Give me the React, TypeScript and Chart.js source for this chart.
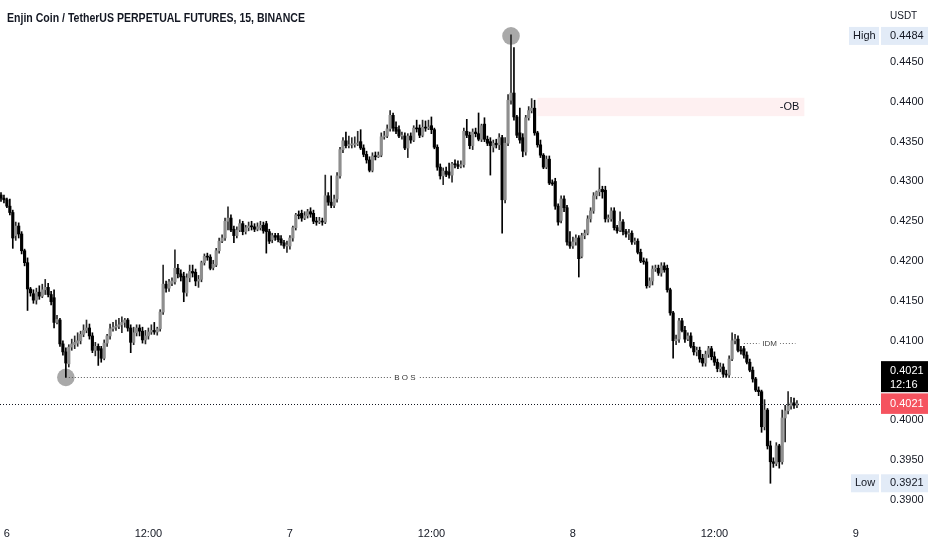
import React, { useEffect, useRef } from 'react';
import { Chart, registerables } from 'chart.js';

Chart.register(...registerables);

const FONT = '"Liberation Sans", Arial, sans-serif';
const TEXT = '#131722';

const TITLE = 'Enjin Coin / TetherUS PERPETUAL FUTURES, 15, BINANCE';
const CURRENCY = 'USDT';
const COUNTDOWN = '12:16';

// x positions are candle indices (15-minute bars)
const TIME_TICKS = [2, 50, 98, 146, 194, 242, 290];
const TIME_LABELS = ['6', '12:00', '7', '12:00', '8', '12:00', '9'];
const PRICE_TICKS = [0.39, 0.395, 0.4, 0.41, 0.415, 0.42, 0.425, 0.43, 0.435, 0.44, 0.445];

// [open, high, low, close] in units of 0.0001 USDT
const CANDLES: number[][] = [
  [4283,4286,4275,4279],[4279,4283,4273,4277],[4277,4279,4267,4269],[4269,4278,4258,4261],[4261,4264,4216,4229],
  [4232,4249,4226,4244],[4244,4248,4229,4234],[4234,4237,4209,4213],[4213,4215,4194,4198],[4198,4204,4138,4165],
  [4165,4167,4156,4160],[4159,4164,4147,4151],[4151,4166,4146,4161],[4161,4169,4152,4156],[4156,4171,4154,4164],
  [4164,4177,4158,4167],[4167,4172,4155,4158],[4158,4162,4145,4149],[4154,4164,4116,4123],[4123,4132,4121,4127],
  [4126,4128,4093,4096],[4096,4100,4082,4086],[4086,4091,4054,4072],[4071,4095,4067,4092],[4092,4102,4088,4096],
  [4095,4106,4090,4098],[4097,4110,4093,4100],[4100,4112,4096,4108],[4108,4120,4105,4113],[4113,4126,4110,4116],
  [4116,4121,4102,4106],[4106,4110,4085,4088],[4088,4098,4081,4093],[4093,4096,4069,4088],[4090,4093,4073,4078],
  [4078,4101,4076,4097],[4097,4108,4093,4106],[4106,4121,4102,4115],[4115,4123,4112,4117],[4117,4126,4113,4118],
  [4118,4128,4115,4120],[4120,4130,4110,4123],[4123,4128,4117,4126],[4126,4128,4112,4116],[4116,4120,4085,4098],
  [4098,4117,4095,4110],[4110,4120,4106,4116],[4116,4120,4106,4112],[4112,4117,4097,4101],[4101,4113,4096,4106],
  [4106,4116,4102,4111],[4111,4120,4108,4113],[4113,4123,4108,4111],[4111,4117,4107,4115],[4115,4139,4112,4136],
  [4136,4195,4133,4171],[4171,4175,4161,4166],[4166,4177,4162,4174],[4172,4179,4169,4175],[4174,4214,4171,4191],
  [4191,4196,4179,4184],[4184,4189,4175,4180],[4181,4186,4149,4161],[4160,4184,4156,4179],[4179,4195,4174,4187],
  [4187,4195,4180,4185],[4186,4190,4169,4175],[4175,4182,4167,4177],[4177,4200,4174,4198],[4198,4209,4195,4206],
  [4206,4210,4201,4205],[4205,4208,4189,4191],[4192,4201,4189,4196],[4195,4216,4193,4213],[4213,4229,4210,4225],
  [4225,4233,4223,4229],[4229,4254,4226,4250],[4250,4268,4239,4254],[4254,4258,4237,4239],[4240,4244,4223,4232],
  [4232,4243,4229,4239],[4239,4252,4237,4247],[4247,4250,4233,4237],[4237,4245,4234,4242],[4242,4249,4238,4244],
  [4244,4250,4239,4243],[4243,4247,4237,4240],[4240,4248,4238,4243],[4242,4250,4239,4245],[4245,4249,4235,4238],
  [4247,4250,4210,4237],[4237,4240,4222,4225],[4227,4235,4223,4232],[4232,4235,4226,4230],[4232,4235,4224,4227],
  [4228,4232,4220,4223],[4223,4226,4216,4219],[4219,4225,4211,4220],[4219,4232,4215,4229],[4229,4244,4225,4242],
  [4242,4260,4239,4258],[4258,4263,4253,4257],[4260,4264,4250,4254],[4254,4262,4252,4257],[4257,4265,4254,4262],
  [4262,4267,4255,4259],[4260,4264,4247,4250],[4250,4255,4245,4249],[4249,4255,4247,4250],[4250,4254,4245,4249],
  [4249,4308,4247,4282],[4282,4286,4270,4274],[4274,4307,4267,4270],[4270,4283,4267,4278],[4278,4311,4274,4307],
  [4307,4343,4304,4340],[4340,4355,4336,4351],[4351,4362,4342,4345],[4345,4357,4342,4346],[4346,4355,4342,4346],
  [4346,4356,4343,4347],[4347,4363,4345,4348],[4350,4365,4340,4342],[4342,4346,4331,4334],[4334,4338,4323,4327],
  [4327,4331,4312,4314],[4314,4336,4312,4332],[4332,4337,4327,4331],[4331,4337,4330,4333],[4333,4361,4331,4356],
  [4356,4363,4353,4357],[4357,4371,4355,4366],[4366,4389,4363,4383],[4383,4386,4363,4367],[4368,4375,4360,4363],
  [4365,4370,4355,4357],[4357,4362,4353,4357],[4357,4361,4340,4342],[4342,4360,4330,4357],[4357,4361,4348,4352],
  [4352,4370,4350,4367],[4367,4377,4362,4366],[4367,4371,4355,4358],[4358,4377,4356,4368],[4368,4376,4363,4367],
  [4367,4377,4365,4368],[4370,4381,4360,4365],[4365,4367,4341,4343],[4343,4346,4314,4318],[4318,4322,4303,4307],
  [4307,4317,4296,4313],[4313,4318,4306,4309],[4312,4323,4304,4308],[4308,4324,4299,4322],[4322,4327,4317,4321],
  [4321,4326,4316,4319],[4319,4326,4317,4321],[4321,4367,4318,4363],[4363,4378,4355,4358],[4358,4362,4341,4345],
  [4345,4366,4340,4362],[4362,4367,4356,4360],[4360,4386,4351,4353],[4353,4372,4350,4370],[4372,4380,4350,4353],
  [4353,4357,4345,4348],[4350,4355,4308,4345],[4343,4352,4337,4348],[4348,4353,4342,4346],[4346,4360,4340,4355],
  [4355,4358,4235,4277],[4277,4355,4273,4348],[4348,4409,4345,4402],[4402,4484,4397,4411],[4411,4468,4377,4381],
  [4381,4383,4355,4358],[4361,4392,4348,4352],[4355,4360,4331,4338],[4337,4383,4333,4380],[4380,4394,4377,4389],
  [4389,4404,4386,4392],[4392,4402,4358,4361],[4361,4363,4343,4346],[4346,4352,4330,4333],[4333,4335,4316,4318],
  [4318,4332,4316,4328],[4328,4332,4296,4298],[4298,4302,4295,4297],[4300,4304,4265,4269],[4269,4272,4245,4249],
  [4251,4282,4248,4278],[4278,4282,4262,4267],[4267,4270,4220,4224],[4224,4237,4216,4219],[4219,4230,4216,4224],
  [4224,4233,4220,4229],[4229,4232,4180,4203],[4206,4235,4204,4232],[4232,4239,4228,4235],[4235,4257,4233,4253],
  [4253,4267,4249,4263],[4263,4286,4260,4282],[4282,4288,4278,4287],[4287,4317,4282,4290],[4290,4294,4279,4287],
  [4289,4294,4249,4253],[4253,4258,4249,4254],[4253,4267,4250,4263],[4263,4267,4239,4242],[4242,4245,4235,4238],
  [4239,4262,4237,4250],[4249,4252,4233,4237],[4237,4240,4230,4234],[4234,4240,4227,4235],[4235,4238,4221,4224],
  [4224,4229,4221,4225],[4225,4228,4209,4211],[4211,4215,4198,4200],[4200,4204,4196,4199],[4199,4203,4166,4169],
  [4169,4179,4167,4175],[4175,4194,4170,4190],[4190,4195,4187,4191],[4191,4195,4182,4185],[4185,4198,4181,4194],
  [4194,4198,4186,4189],[4191,4195,4161,4164],[4164,4166,4132,4135],[4135,4137,4078,4100],[4100,4107,4095,4102],
  [4102,4128,4098,4125],[4125,4128,4111,4113],[4113,4118,4098,4102],[4102,4110,4100,4106],[4106,4110,4091,4093],
  [4093,4098,4082,4086],[4086,4092,4081,4088],[4088,4092,4073,4077],[4078,4083,4068,4072],[4072,4087,4068,4083],
  [4083,4093,4079,4090],[4090,4093,4076,4080],[4080,4086,4069,4073],[4073,4077,4061,4065],[4065,4072,4061,4067],
  [4067,4071,4054,4058],[4058,4063,4054,4057],[4057,4081,4054,4077],[4077,4110,4075,4100],[4100,4108,4096,4102],
  [4102,4106,4086,4088],[4088,4093,4083,4087],[4090,4093,4078,4082],[4082,4086,4071,4073],[4073,4077,4061,4063],
  [4063,4067,4048,4052],[4052,4054,4036,4038],[4038,4042,4031,4036],[4036,4038,3985,3992],[3992,4026,3988,4013],
  [4013,4015,3964,3968],[3968,3974,3921,3948],[3948,3953,3941,3946],[3946,3972,3943,3968],[3968,3970,3940,3948],
  [3948,4013,3945,4003],[4003,4019,3973,4012],[4012,4036,4008,4018],[4018,4029,4014,4022],[4022,4028,4015,4019],
  [4019,4025,4016,4021],
];

// Drawing annotations (candle indices / prices)
const SWING_LOW_INDEX = 22;
const SWING_HIGH_INDEX = 173;
const BOS_END_INDEX = 252;
const IDM_START_INDEX = 252;
const IDM_END_INDEX = 269.5;
const IDM_LEVEL = 0.4097;
const OB_START_INDEX = 182;
const OB_END_INDEX = 272.5;
const OB_TOP = 0.4405;
const OB_BOTTOM = 0.4382;

const X_MIN = -0.339;
const X_MAX = 294.1;
const Y_MIN = 0.38774;
const Y_MAX = 0.452785;

export default function App() {
  const ref = useRef<HTMLCanvasElement>(null);

  useEffect(() => {
    const canvas = ref.current;
    if (!canvas) return;
    const ohlc = CANDLES.map((c) => c.map((v) => v / 10000));
    const up = ohlc.map((c) => c[3] >= c[0]);
    const bodies = ohlc.map((c, i) => ({ x: i, y: [Math.min(c[0], c[3]), Math.max(c[0], c[3])] }));
    const wicks = ohlc.map((c, i) => ({ x: i, y: [c[2], c[1]] }));
    const highest = Math.max(...ohlc.map((c) => c[1]));
    const lowest = Math.min(...ohlc.map((c) => c[2]));
    const last = ohlc[ohlc.length - 1][3];
    const bosLevel = ohlc[SWING_LOW_INDEX][2];

    const overlay = {
      id: 'overlay',
      beforeDatasetsDraw(chart: any) {
        const { ctx, scales } = chart;
        const x = scales.x, y = scales.y;
        ctx.save();
        const x0 = x.getPixelForValue(OB_START_INDEX);
        const x1 = x.getPixelForValue(OB_END_INDEX);
        const y0 = y.getPixelForValue(OB_TOP);
        const y1 = y.getPixelForValue(OB_BOTTOM);
        ctx.fillStyle = 'rgba(242, 54, 69, 0.075)';
        ctx.fillRect(x0, y0, x1 - x0, y1 - y0);
        ctx.fillStyle = '#a9a9a9';
        ctx.beginPath();
        ctx.arc(x.getPixelForValue(SWING_HIGH_INDEX), y.getPixelForValue(highest) + 1, 8.8, 0, Math.PI * 2);
        ctx.fill();
        ctx.beginPath();
        ctx.arc(x.getPixelForValue(SWING_LOW_INDEX), y.getPixelForValue(bosLevel), 8.8, 0, Math.PI * 2);
        ctx.fill();
        ctx.restore();
      },
      afterDraw(chart: any) {
        const { ctx, scales } = chart;
        const x = scales.x, y = scales.y;
        const dotted = (xa: number, xb: number, yy: number, color: string) => {
          ctx.save();
          ctx.strokeStyle = color;
          ctx.lineWidth = 1;
          ctx.setLineDash([1, 2]);
          ctx.beginPath();
          const yr = Math.round(yy) + 0.5;
          ctx.moveTo(xa, yr);
          ctx.lineTo(xb, yr);
          ctx.stroke();
          ctx.restore();
        };
        const label = (text: string, cx: number, cy: number, font: string, color: string, align: CanvasTextAlign, bg?: string) => {
          ctx.save();
          ctx.font = font;
          ctx.textAlign = align;
          ctx.textBaseline = 'middle';
          if (bg) {
            const w = ctx.measureText(text).width;
            ctx.fillStyle = bg;
            const left = align === 'center' ? cx - w / 2 : align === 'right' ? cx - w : cx;
            ctx.fillRect(left - 3, cy - 5, w + 6, 10);
          }
          ctx.fillStyle = color;
          ctx.fillText(text, cx, cy);
          ctx.restore();
        };
        const box = (left: number, cy: number, w: number, h: number, bg: string) => {
          ctx.fillStyle = bg;
          ctx.fillRect(left, cy - h / 2, w, h);
        };

        // BOS
        const bx0 = x.getPixelForValue(SWING_LOW_INDEX);
        const bx1 = x.getPixelForValue(BOS_END_INDEX);
        const by = y.getPixelForValue(bosLevel);
        dotted(bx0, bx1, by, '#555');
        label('B O S', (bx0 + bx1) / 2, Math.round(by) + 0.5, `8px ${FONT}`, '#333', 'center', '#ffffff');

        // IDM
        const ix0 = x.getPixelForValue(IDM_START_INDEX);
        const ix1 = x.getPixelForValue(IDM_END_INDEX);
        const iy = y.getPixelForValue(IDM_LEVEL);
        dotted(ix0, ix1, iy, '#666');
        label('IDM', (ix0 + ix1) / 2, Math.round(iy) + 0.5, `8px ${FONT}`, '#444', 'center', '#ffffff');

        // OB label
        const oy = (y.getPixelForValue(OB_TOP) + y.getPixelForValue(OB_BOTTOM)) / 2;
        label('-OB', x.getPixelForValue(OB_END_INDEX) - 5, oy, `11px ${FONT}`, TEXT, 'right');

        // current price line
        const cy = y.getPixelForValue(last);
        dotted(0, 881, cy, '#131722');

        // title
        ctx.save();
        ctx.font = `bold 13px ${FONT}`;
        ctx.fillStyle = TEXT;
        ctx.textBaseline = 'alphabetic';
        const tw = ctx.measureText(TITLE).width;
        const sx = Math.min(1, 298 / tw);
        ctx.translate(7, 22);
        ctx.scale(sx, 1);
        ctx.fillText(TITLE, 0, 0);
        ctx.restore();

        // price axis labels
        ctx.save();
        label(CURRENCY, 890, 16, `10px ${FONT}`, TEXT, 'left');
        const hy = y.getPixelForValue(highest) + 1;
        box(849, hy, 30, 18, '#e2ebf7');
        box(881, hy, 47, 18, '#e2ebf7');
        label('High', 853, hy, `11px ${FONT}`, TEXT, 'left');
        label(highest.toFixed(4), 890, hy, `11px ${FONT}`, TEXT, 'left');
        const ly = y.getPixelForValue(lowest);
        box(851, ly, 28, 18, '#e2ebf7');
        box(881, ly, 47, 18, '#e2ebf7');
        label('Low', 855, ly, `11px ${FONT}`, TEXT, 'left');
        label(lowest.toFixed(4), 890, ly, `11px ${FONT}`, TEXT, 'left');
        ctx.fillStyle = '#000000';
        ctx.fillRect(881, cy - 42.5, 47, 31);
        box(881, cy, 47, 20.5, '#f5535f');
        label(last.toFixed(4), 890, cy - 33, `11px ${FONT}`, '#ffffff', 'left');
        label(COUNTDOWN, 890, cy - 18.5, `11px ${FONT}`, '#ffffff', 'left');
        label(last.toFixed(4), 890, cy + 0.5, `11px ${FONT}`, '#ffffff', 'left');
        ctx.restore();
      },
    };

    const chart = new Chart(canvas, {
      type: 'bar',
      data: {
        datasets: [
          {
            label: 'wick',
            data: wicks as any,
            backgroundColor: up.map((u) => (u ? '#2a2a2a' : '#000000')),
            barThickness: 1,
            grouped: false,
            order: 2,
          } as any,
          {
            label: 'body',
            data: bodies as any,
            backgroundColor: up.map((u) => (u ? '#8e8e8e' : '#000000')),
            borderWidth: 0,
            barThickness: 2.5,
            minBarLength: 1,
            grouped: false,
            order: 1,
          } as any,
        ],
      },
      options: {
        animation: false,
        responsive: false,
        maintainAspectRatio: false,
        layout: { padding: 0 },
        plugins: { legend: { display: false }, tooltip: { enabled: false } },
        scales: {
          x: {
            type: 'linear',
            min: X_MIN,
            max: X_MAX,
            offset: false,
            grid: { display: false, drawTicks: false },
            border: { display: false },
            afterBuildTicks: (s: any) => {
              s.ticks = TIME_TICKS.map((v) => ({ value: v }));
            },
            afterFit: (s: any) => {
              s.height = 32;
              s.paddingLeft = 0;
              s.paddingRight = 0;
              s.paddingTop = 0;
              s.paddingBottom = 0;
            },
            ticks: {
              autoSkip: false,
              maxRotation: 0,
              padding: 9,
              color: TEXT,
              font: { size: 11, family: FONT },
              callback: (v: any) => {
                const k = TIME_TICKS.indexOf(Number(v));
                return k >= 0 ? TIME_LABELS[k] : '';
              },
            },
          },
          y: {
            type: 'linear',
            position: 'right',
            min: Y_MIN,
            max: Y_MAX,
            grid: { display: false, drawTicks: false },
            border: { display: false },
            afterBuildTicks: (s: any) => {
              s.ticks = PRICE_TICKS.map((v) => ({ value: v }));
            },
            afterFit: (s: any) => {
              s.width = 64;
              s.paddingTop = 0;
              s.paddingBottom = 0;
              s.paddingLeft = 0;
              s.paddingRight = 0;
            },
            ticks: {
              autoSkip: false,
              padding: 22,
              color: TEXT,
              font: { size: 11, family: FONT },
              callback: (v: any) => Number(v).toFixed(4),
            },
          },
        } as any,
      },
      plugins: [overlay],
    });

    return () => chart.destroy();
  }, []);

  return (
    <div style={{ position: 'absolute', left: 0, top: 0, width: 932, height: 550, background: '#ffffff' }}>
      <canvas ref={ref} width={932} height={550} style={{ display: 'block', width: 932, height: 550 }} />
    </div>
  );
}
